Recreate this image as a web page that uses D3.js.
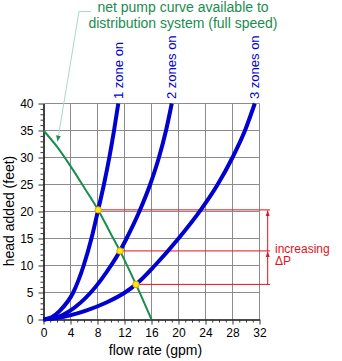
<!DOCTYPE html>
<html>
<head>
<meta charset="utf-8">
<script src="https://cdn.jsdelivr.net/npm/d3@7"></script>
<style>
  html, body { margin: 0; padding: 0; background: #fff; }
  svg { display: block; font-family: "Liberation Sans", Arial, Helvetica, sans-serif; }
</style>
</head>
<body>
<svg id="chart" width="342" height="361"></svg>
<script>
// Flow rate (gpm) and head added (feet) along each curve
const pumpFlow  = [0, 2, 4, 6, 8.1, 10, 11.33, 12, 13.7, 16];
const pumpHead  = [35, 32.0, 28.4, 24.5, 20.3, 15.8, 12.7, 11.0, 6.5, 0];

const zone1Flow = [0, 1.2, 2.4, 4.4, 5.95, 7.1, 8.1, 8.95, 9.75, 10.45, 11.08];
const zone1Head = [0, 0.4, 1.6, 5.0, 10, 15, 20.3, 25, 30, 35, 40];

const zone2Flow = [0, 2, 3.9, 7.0, 10.0, 11.33, 12.3, 14.2, 15.8, 17.1, 18.15, 19.0];
const zone2Head = [0, 0.4, 1.6, 5.0, 10, 12.7, 15, 20, 25, 30, 35, 40];

const zone3Flow = [0, 3, 6.4, 9.4, 12.07, 13.7, 16.5, 20.0, 23.3, 25.8, 28.0, 29.85, 31.3];
const zone3Head = [0, 0.5, 1.7, 3.2, 5.0, 6.5, 10, 15, 20.3, 25, 30, 35, 40];

const zoneLabels = ["1 zone on", "2 zones on", "3 zones on"];

// Operating points where the pump curve meets each system curve
const opFlow = [8.1, 11.33, 13.7];
const opHead = [20.3, 12.7, 6.5];

const xTicks = [0, 4, 8, 12, 16, 20, 24, 28, 32];
const yTicks = [0, 5, 10, 15, 20, 25, 30, 35, 40];

const titleLines = ["net pump curve available to", "distribution system (full speed)"];
const deltaLabel = ["increasing", "\u0394P"];

const svg = d3.select("#chart");
const x = d3.scaleLinear().domain([0, 32]).range([43.5, 259.5]);
const y = d3.scaleLinear().domain([0, 40]).range([319.5, 103.5]);

const BLUE = "#0000d0", GREEN = "#1a8c4e", RED = "#e3121b", GRID = "#8c8c8c";

// grid
const grid = svg.append("g");
grid.selectAll("line.v").data(xTicks.slice(1)).join("line")
  .attr("x1", d => x(d)).attr("x2", d => x(d))
  .attr("y1", y(0)).attr("y2", y(40))
  .attr("stroke", GRID).attr("stroke-width", 1);
grid.selectAll("line.h").data(yTicks.slice(1)).join("line")
  .attr("x1", x(0)).attr("x2", x(32))
  .attr("y1", d => y(d)).attr("y2", d => y(d))
  .attr("stroke", GRID).attr("stroke-width", 1);

// axes
const fmt = d3.format("d");
const xMinor = d3.range(0, 33, 1).filter(v => v % 4 !== 0);
const yMinor = d3.range(0, 41, 1).filter(v => v % 5 !== 0);

const gx = svg.append("g").attr("transform", `translate(0,${y(0)})`);
gx.call(d3.axisBottom(x).tickValues(xTicks).tickFormat(fmt).tickSize(5).tickSizeOuter(0).tickPadding(4));
gx.append("g").call(d3.axisBottom(x).tickValues(xMinor).tickFormat("").tickSize(3).tickSizeOuter(0))
  .select(".domain").remove();

const gy = svg.append("g").attr("transform", `translate(${x(0)},0)`);
gy.call(d3.axisLeft(y).tickValues(yTicks).tickFormat(fmt).tickSize(5).tickSizeOuter(0).tickPadding(5));
gy.append("g").call(d3.axisLeft(y).tickValues(yMinor).tickFormat("").tickSize(3).tickSizeOuter(0))
  .select(".domain").remove();

svg.selectAll(".tick text").attr("font-size", 12).attr("fill", "#000")
  .attr("font-family", "'Liberation Sans', Arial, Helvetica, sans-serif");
svg.selectAll(".tick line").attr("stroke", "#333");
svg.selectAll(".domain").attr("stroke", "#111").attr("stroke-width", 1.6);

// axis titles
svg.append("text").attr("x", 155.5).attr("y", 354.5).attr("text-anchor", "middle")
  .attr("font-size", 14).text("flow rate (gpm)");
svg.append("text").attr("transform", "translate(14,211) rotate(-90)").attr("text-anchor", "middle")
  .attr("font-size", 14).text("head added (feet)");

// red operating-point levels and the ΔP arrow
const arrowX = 267.7, lineEnd = 270;
svg.append("defs").append("marker")
  .attr("id", "redArrow").attr("viewBox", "0 0 10 10").attr("refX", 10).attr("refY", 5)
  .attr("markerWidth", 6).attr("markerHeight", 6).attr("orient", "auto-start-reverse")
  .attr("markerUnits", "userSpaceOnUse")
  .append("path").attr("d", "M0,1.5 L10,5 L0,8.5 Z").attr("fill", RED);
svg.select("defs").append("marker")
  .attr("id", "greenArrow").attr("viewBox", "0 0 10 10").attr("refX", 10).attr("refY", 5)
  .attr("markerWidth", 6).attr("markerHeight", 6).attr("orient", "auto")
  .attr("markerUnits", "userSpaceOnUse")
  .append("path").attr("d", "M0,1 L10,5 L0,9 Z").attr("fill", GREEN);

svg.append("g").selectAll("line").data(opFlow).join("line")
  .attr("x1", (d, i) => x(d)).attr("x2", lineEnd)
  .attr("y1", (d, i) => y(opHead[i])).attr("y2", (d, i) => y(opHead[i]))
  .attr("stroke", RED).attr("stroke-width", 1);

const levels = opHead.slice().sort((a, b) => a - b);
for (let i = 0; i < levels.length - 1; i++) {
  svg.append("line")
    .attr("x1", arrowX).attr("x2", arrowX)
    .attr("y1", y(levels[i])).attr("y2", y(levels[i + 1]) + 0.5)
    .attr("stroke", RED).attr("stroke-width", 1)
    .attr("marker-end", "url(#redArrow)");
}
const dl = svg.append("text").attr("x", 275).attr("font-size", 12).attr("fill", RED);
dl.append("tspan").attr("x", 275).attr("y", 252.5).text(deltaLabel[0]);
dl.append("tspan").attr("x", 275).attr("y", 265).text(deltaLabel[1]);

// curves
const line = d3.line().x(d => x(d[0])).y(d => y(d[1])).curve(d3.curveMonotoneX);
const zip = (a, b) => a.map((v, i) => [v, b[i]]);
const zones = [zip(zone1Flow, zone1Head), zip(zone2Flow, zone2Head), zip(zone3Flow, zone3Head)];

svg.append("path").datum(zip(pumpFlow, pumpHead)).attr("d", line)
  .attr("fill", "none").attr("stroke", GREEN).attr("stroke-width", 2);

svg.append("g").selectAll("path").data(zones).join("path")
  .attr("d", line).attr("fill", "none").attr("stroke", BLUE).attr("stroke-width", 4);

// operating points
svg.append("g").selectAll("circle").data(opFlow).join("circle")
  .attr("cx", d => x(d)).attr("cy", (d, i) => y(opHead[i])).attr("r", 3.2)
  .attr("fill", "#ffec00").attr("stroke", "#e0a400").attr("stroke-width", 1);

// zone labels
svg.append("g").selectAll("text").data(zones).join("text")
  .attr("transform", d => { const p = d[d.length - 1]; return `translate(${x(p[0]) + 4.5},${y(p[1]) - 4.5}) rotate(-90)`; })
  .attr("font-size", 13).attr("fill", BLUE).text((d, i) => zoneLabels[i]);

// pump curve title with leader
svg.append("path").attr("d", "M91,11.5 L79,11.5 L57.5,141.5")
  .attr("fill", "none").attr("stroke", "#a9d9c4").attr("stroke-width", 1)
  .attr("marker-end", "url(#greenArrow)");
const tt = svg.append("text").attr("font-size", 14).attr("fill", GREEN).attr("text-anchor", "middle");
tt.append("tspan").attr("x", 183).attr("y", 12).text(titleLines[0]);
tt.append("tspan").attr("x", 183).attr("y", 27.5).text(titleLines[1]);
</script>
</body>
</html>
